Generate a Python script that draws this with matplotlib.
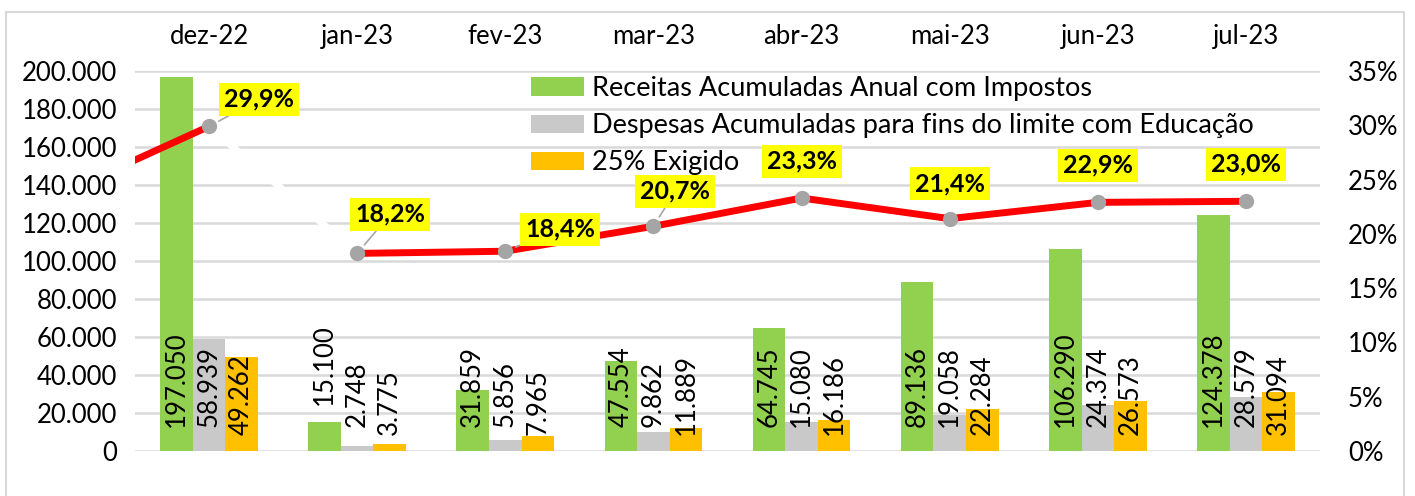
import numpy as np
import matplotlib
matplotlib.use('Agg')
import matplotlib.pyplot as plt
from matplotlib.ticker import FuncFormatter
from matplotlib.patches import Rectangle

plt.rcParams['font.family'] = ['Lato', 'DejaVu Sans']

# dados
meses = ['dez-22', 'jan-23', 'fev-23', 'mar-23', 'abr-23', 'mai-23', 'jun-23', 'jul-23']
receitas = [197050, 15100, 31859, 47554, 64745, 89136, 106290, 124378]
despesas = [58939, 2748, 5856, 9862, 15080, 19058, 24374, 28579]
exigido = [49262, 3775, 7965, 11889, 16186, 22284, 26573, 31094]
percentual = [29.9, 18.2, 18.4, 20.7, 23.3, 21.4, 22.9, 23.0]
percentual_anterior = 23.7  # ponto anterior (nov-22), fora do grafico

nomes = ['Receitas Acumuladas Anual com Impostos',
         'Despesas Acumuladas para fins do limite com Educação',
         '25% Exigido']
cores = ['#92D050', '#C9C9C9', '#FFC000']

W, H = 1415, 496
fig = plt.figure(figsize=(W / 100, H / 100), dpi=100)
ax = fig.add_axes([135 / W, 1 - 451 / H, (1320 - 135) / W, (451 - 71) / H])
ax2 = ax.twinx()

# borda do grafico
fig.patches.append(Rectangle((6 / W, -0.05), (1404 - 6) / W, 1.05 - 12 / H,
                             transform=fig.transFigure, fill=False,
                             edgecolor='#D9D9D9', linewidth=1.5))

x = np.arange(len(meses))
larg = 0.22
fs = 18.5      # eixos e rotulos das barras
fs_leg = 19.5  # legenda
fs_pct = 18    # rotulos percentuais

series = [receitas, despesas, exigido]
bases = [12600, 12600, 8400]
for i, (vals, cor, nome) in enumerate(zip(series, cores, nomes)):
    pos = x + (i - 1) * larg
    ax.bar(pos, vals, width=larg, color=cor, label=nome, zorder=2)
    for xp, v in zip(pos, vals):
        y_lab = bases[i]
        if i == 0 and v < 20000:  # rotulo nao cabe na barra
            y_lab = v + 9000
        ax.text(xp, y_lab, f'{v:,.0f}'.replace(',', '.'), rotation=90,
                ha='center', va='bottom', fontsize=fs, color='black', zorder=3)

ax.set_xlim(-0.5, len(meses) - 0.5)
ax.set_ylim(0, 200000)
ax.set_yticks(np.arange(0, 200001, 20000))
ax.yaxis.set_major_formatter(FuncFormatter(lambda v, p: f'{v:,.0f}'.replace(',', '.')))
ax.grid(axis='y', color='#D9D9D9', linewidth=1.8)
ax.set_axisbelow(True)
ax.set_xticks(x)
ax.set_xticklabels(meses)
ax.xaxis.tick_top()
ax.tick_params(axis='x', length=0, labelsize=fs, pad=16)
ax.tick_params(axis='y', length=0, labelsize=fs, pad=13)

# linha percentual
ax2.plot([-1, 0], [percentual_anterior, percentual[0]], color='red', lw=5,
         solid_capstyle='butt', zorder=3)
ax2.plot([0, 1], percentual[:2], color='white', lw=5, zorder=3)
ax2.plot(x[1:], percentual[1:], color='red', lw=5, zorder=3)
ax2.plot(x, percentual, linestyle='none', marker='o', markersize=10,
         color='#A5A5A5', zorder=4)
ax2.set_ylim(0, 35)
ax2.set_yticks(np.arange(0, 36, 5))
ax2.yaxis.set_major_formatter(FuncFormatter(lambda v, p: f'{v:.0f}%'))
ax2.tick_params(axis='y', length=0, labelsize=fs, pad=20)
ax2.set_xlim(-0.5, len(meses) - 0.5)

offsets = [(50, 27), (33, 39), (55, 22), (22, 35), (0, 37), (0, 35), (0, 37), (0, 37)]
for xi, p, (dx, dy) in zip(x, percentual, offsets):
    seta = None
    if dx != 0:
        seta = dict(arrowstyle='-', color='#A5A5A5', lw=1.2, shrinkA=0, shrinkB=8)
    ax2.annotate(f'{p:.1f}%'.replace('.', ','), xy=(xi, p), xytext=(dx, dy),
                 textcoords='offset pixels', ha='center', va='center',
                 fontsize=fs_pct, fontweight='bold',
                 bbox=dict(boxstyle='square,pad=0.2', fc='#FFFF00', ec='none'),
                 arrowprops=seta, zorder=5)

for a in (ax, ax2):
    for s in a.spines.values():
        s.set_visible(False)

h, l = ax.get_legend_handles_labels()
ax2.legend(h, l, loc='upper left', bbox_to_anchor=(531 / W, 1 - 76 / H),
           bbox_transform=fig.transFigure, frameon=False, fontsize=fs_leg,
           borderpad=0, borderaxespad=0, handlelength=1.95, handleheight=0.65,
           handletextpad=0.3, labelspacing=0.45)

fig.savefig('out.png', dpi=100)
